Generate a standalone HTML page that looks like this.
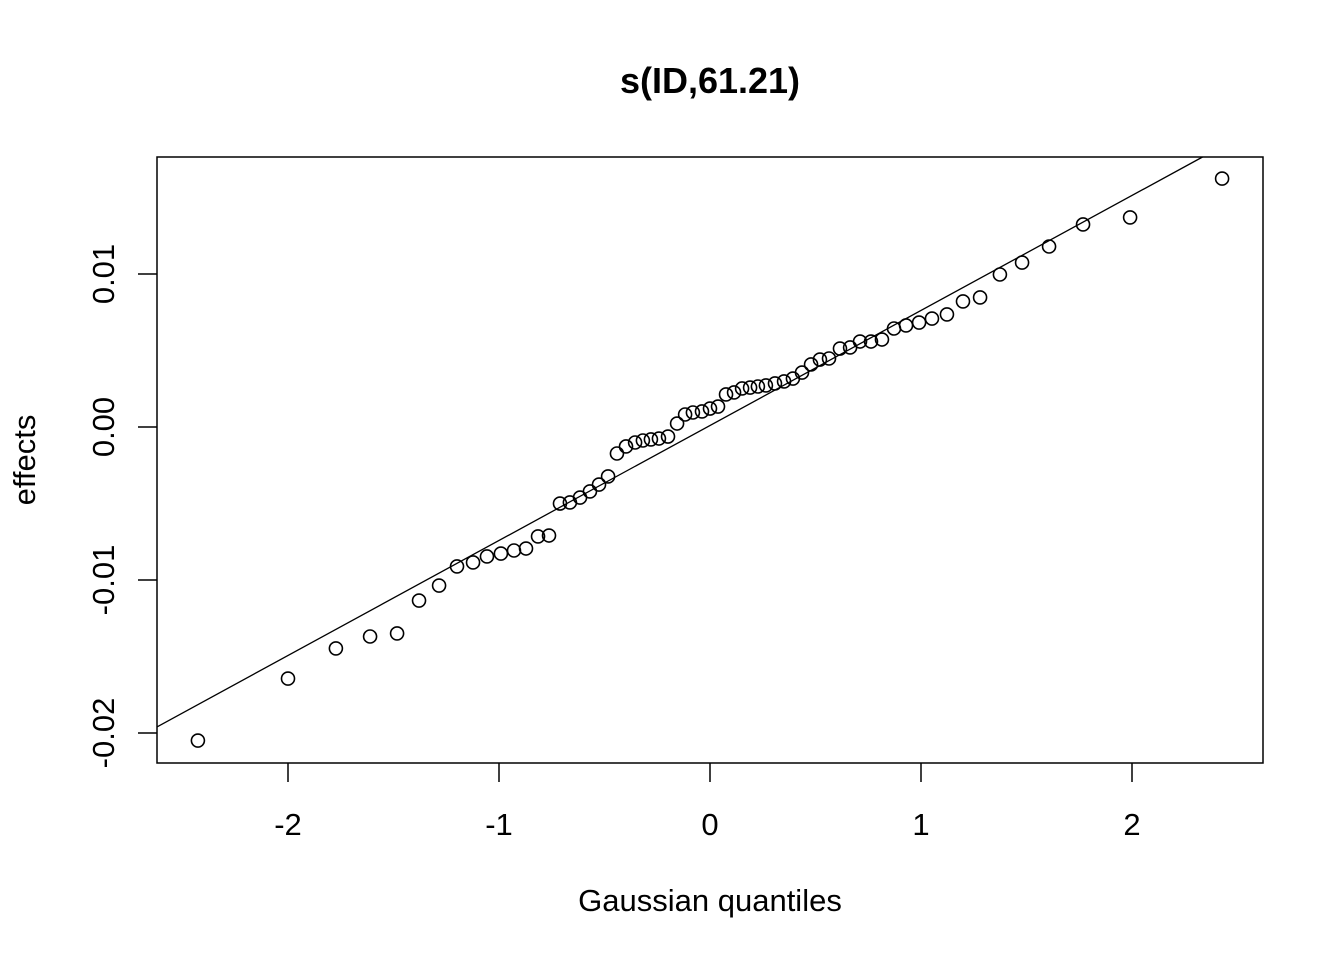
<!DOCTYPE html>
<html><head><meta charset="utf-8"><style>
html,body{margin:0;padding:0;background:#fff;}
svg{display:block;font-family:"Liberation Sans",Arial,sans-serif;}
</style></head><body>
<svg id="chart" width="1344" height="960" viewBox="0 0 1344 960" xmlns="http://www.w3.org/2000/svg">
<rect width="1344" height="960" fill="#fff"/>
<text x="710" y="93" font-size="36" font-weight="bold" text-anchor="middle">s(ID,61.21)</text>
<rect x="157" y="157" width="1106" height="606" fill="none" stroke="#000" stroke-width="1.5"/>
<text x="710" y="911" font-size="31" text-anchor="middle">Gaussian quantiles</text>
<text transform="translate(35,460) rotate(-90)" font-size="31" text-anchor="middle">effects</text>
<g id="axes"></g>
<g id="marks"></g>
</svg>
<script>
const xTicks = [-2, -1, 0, 1, 2];
const xTickLabels = ["-2", "-1", "0", "1", "2"];
const yTicks = [-0.02, -0.01, 0.00, 0.01];
const yTickLabels = ["-0.02", "-0.01", "0.00", "0.01"];
const quantiles = [-2.427,-2.0,-1.773,-1.611,-1.483,-1.379,-1.284,-1.199,-1.123,-1.057,-0.991,-0.929,-0.872,-0.815,-0.763,-0.711,-0.664,-0.616,-0.569,-0.526,-0.483,-0.441,-0.398,-0.355,-0.318,-0.280,-0.242,-0.199,-0.156,-0.118,-0.081,-0.038,0,0.038,0.076,0.114,0.152,0.190,0.227,0.265,0.308,0.351,0.393,0.436,0.479,0.521,0.564,0.616,0.664,0.711,0.763,0.815,0.872,0.929,0.991,1.052,1.123,1.199,1.280,1.374,1.479,1.607,1.768,1.991,2.427];
const effects = [-0.02046,-0.01641,-0.01444,-0.01366,-0.01346,-0.01131,-0.01033,-0.00908,-0.00882,-0.00843,-0.00824,-0.00804,-0.00791,-0.00712,-0.00706,-0.00497,-0.00490,-0.00458,-0.00418,-0.00373,-0.00320,-0.00170,-0.00124,-0.00098,-0.00085,-0.00078,-0.00072,-0.00059,0.00026,0.00085,0.00098,0.00105,0.00124,0.00137,0.00216,0.00229,0.00255,0.00261,0.00268,0.00275,0.00288,0.00301,0.00320,0.00359,0.00412,0.00444,0.00451,0.00516,0.00523,0.00562,0.00562,0.00575,0.00647,0.00667,0.00686,0.00712,0.00739,0.00824,0.00850,0.01000,0.01078,0.01183,0.01327,0.01373,0.01627];
const lineIntercept = 0.0001;
const lineSlope = 0.007517;

const NS = "http://www.w3.org/2000/svg";
const X0 = 157, X1 = 1263, Y0 = 157, Y1 = 763;
const sx = v => 710 + v * 211;
const sy = v => 427 - v * 15300;
const axes = document.getElementById('axes');
const marks = document.getElementById('marks');
function mk(tag, attrs, parent) {
  const e = document.createElementNS(NS, tag);
  for (const k in attrs) e.setAttribute(k, attrs[k]);
  parent.appendChild(e);
  return e;
}
xTicks.forEach((t, i) => {
  const x = sx(t);
  const tk = mk('line', {x1: x, x2: x, y1: Y1, y2: Y1 + 19, stroke: '#000', 'stroke-width': 1.5}, axes);
  
  
  const lb = mk('text', {x: x, y: 835, 'font-size': 31, 'text-anchor': 'middle'}, axes);
  lb.textContent = xTickLabels[i];
  
  
});
yTicks.forEach((t, i) => {
  const y = sy(t);
  const tk = mk('line', {x1: X0 - 19, x2: X0, y1: y, y2: y, stroke: '#000', 'stroke-width': 1.5}, axes);
  
  
  const lb = mk('text', {transform: `translate(114,${y}) rotate(-90)`, 'font-size': 31, 'text-anchor': 'middle'}, axes);
  lb.textContent = yTickLabels[i];
  
  
});
let xa = (X0 - 710) / 211, xb = (X1 - 710) / 211;
let pts = [];
[xa, xb].forEach(x => pts.push([x, lineIntercept + lineSlope * x]));
const yTop = (427 - Y0) / 15300, yBot = (427 - Y1) / 15300;
pts = pts.map(([x, y]) => {
  if (y > yTop) { x = (yTop - lineIntercept) / lineSlope; y = yTop; }
  if (y < yBot) { x = (yBot - lineIntercept) / lineSlope; y = yBot; }
  return [x, y];
});
const ln = mk('line', {x1: sx(pts[0][0]), y1: sy(pts[0][1]), x2: sx(pts[1][0]), y2: sy(pts[1][1]), stroke: '#000', 'stroke-width': 1.3}, marks);


quantiles.forEach((q, i) => {
  const c = mk('circle', {cx: sx(q), cy: sy(effects[i]) + 0.5, r: 6.5, fill: 'none', stroke: '#000', 'stroke-width': 1.6}, marks);
  
  
});
</script>
</body></html>
